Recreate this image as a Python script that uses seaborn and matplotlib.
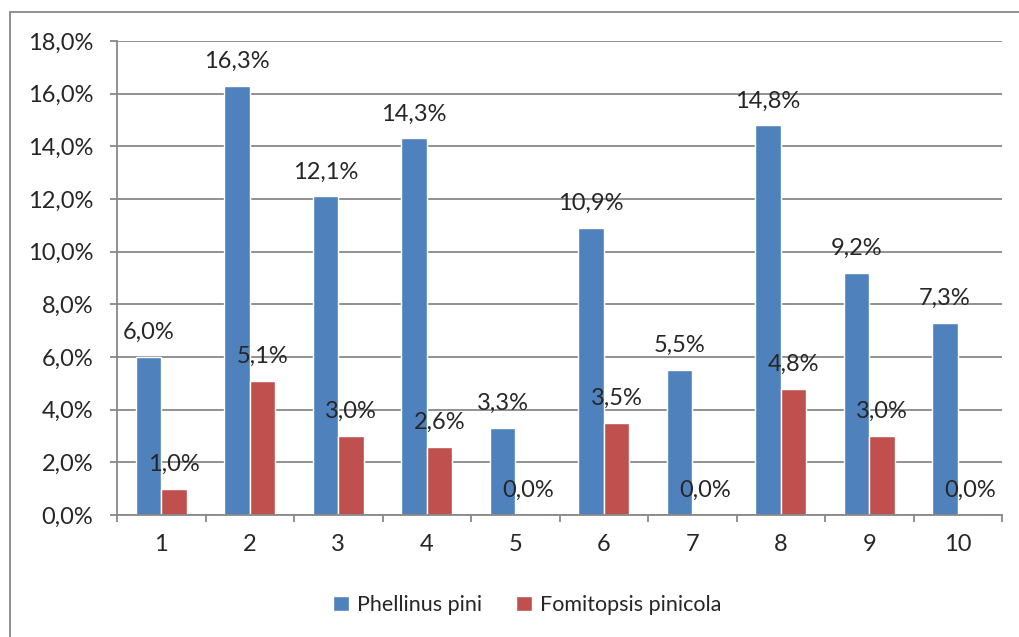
import matplotlib
matplotlib.use("Agg")
import matplotlib.pyplot as plt
import seaborn as sns
import pandas as pd
import numpy as np
from matplotlib.lines import Line2D
from matplotlib.ticker import FuncFormatter, FixedLocator

categories = ["1", "2", "3", "4", "5", "6", "7", "8", "9", "10"]
phellinus = [6.0, 16.3, 12.1, 14.3, 3.3, 10.9, 5.5, 14.8, 9.2, 7.3]
fomitopsis = [1.0, 5.1, 3.0, 2.6, 0.0, 3.5, 0.0, 4.8, 3.0, 0.0]
series_names = ["Phellinus pini", "Fomitopsis pinicola"]
yticks = [0, 2, 4, 6, 8, 10, 12, 14, 16, 18]

df = pd.DataFrame({
    "cat": categories * 2,
    "val": phellinus + fomitopsis,
    "series": [series_names[0]] * len(categories) + [series_names[1]] * len(categories),
})

sns.set_style("white")
plt.rcParams["font.family"] = ["Lato", "DejaVu Sans"]
FS = 17
LFS = 15.5
GRID = "#888888"

fig = plt.figure(figsize=(10.19, 6.37), dpi=100)
ax = fig.add_axes([117 / 1019, 1 - 515 / 637, 885 / 1019, 474 / 637])

sns.barplot(data=df, x="cat", y="val", hue="series", order=categories,
            hue_order=series_names, palette=["#4F81BD", "#C0504D"],
            width=0.572, saturation=1, ax=ax, errorbar=None, legend=True)

ax.set_ylim(0, 18)
ax.set_xlim(-0.5, len(categories) - 0.5)
ax.yaxis.set_major_locator(FixedLocator(yticks))
ax.yaxis.set_major_formatter(FuncFormatter(lambda v, p: f"{v:.1f}%".replace(".", ",")))
ax.grid(axis="y", color=GRID, linewidth=1.3)
ax.set_axisbelow(True)
for s in ["top", "right"]:
    ax.spines[s].set_visible(False)
for s in ["left", "bottom"]:
    ax.spines[s].set_color(GRID)
    ax.spines[s].set_linewidth(1.3)
ax.set_xlabel("")
ax.set_ylabel("")
ax.tick_params(axis="y", length=5, width=1.3, color=GRID, pad=12, labelsize=FS, left=True)
ax.tick_params(axis="x", which="major", length=0, pad=14, labelsize=FS)
ax.set_xticks(np.arange(-0.5, len(categories), 1.0), minor=True)
ax.tick_params(axis="x", which="minor", length=5, width=1.3, color=GRID, bottom=True)

for cont in ax.containers:
    ax.bar_label(cont, labels=[f"{v:.1f}%".replace(".", ",") for v in cont.datavalues],
                 padding=10, fontsize=FS)

handles, labels = ax.get_legend_handles_labels()
ax.legend(handles, labels, loc="center", bbox_to_anchor=(527 / 1019, 1 - 605 / 637),
          bbox_transform=fig.transFigure, ncol=2, frameon=False, fontsize=LFS,
          handlelength=0.75, handleheight=0.75, handletextpad=0.35, columnspacing=1.6)

# outer chart border (top and left visible)
fig.add_artist(Line2D([9.5 / 1019, 1.0], [1 - 11.5 / 637, 1 - 11.5 / 637],
                      transform=fig.transFigure, color=GRID, linewidth=1.3))
fig.add_artist(Line2D([9.5 / 1019, 9.5 / 1019], [0, 1 - 11.5 / 637],
                      transform=fig.transFigure, color=GRID, linewidth=1.3))

fig.savefig("out.png", dpi=100, facecolor="white")
